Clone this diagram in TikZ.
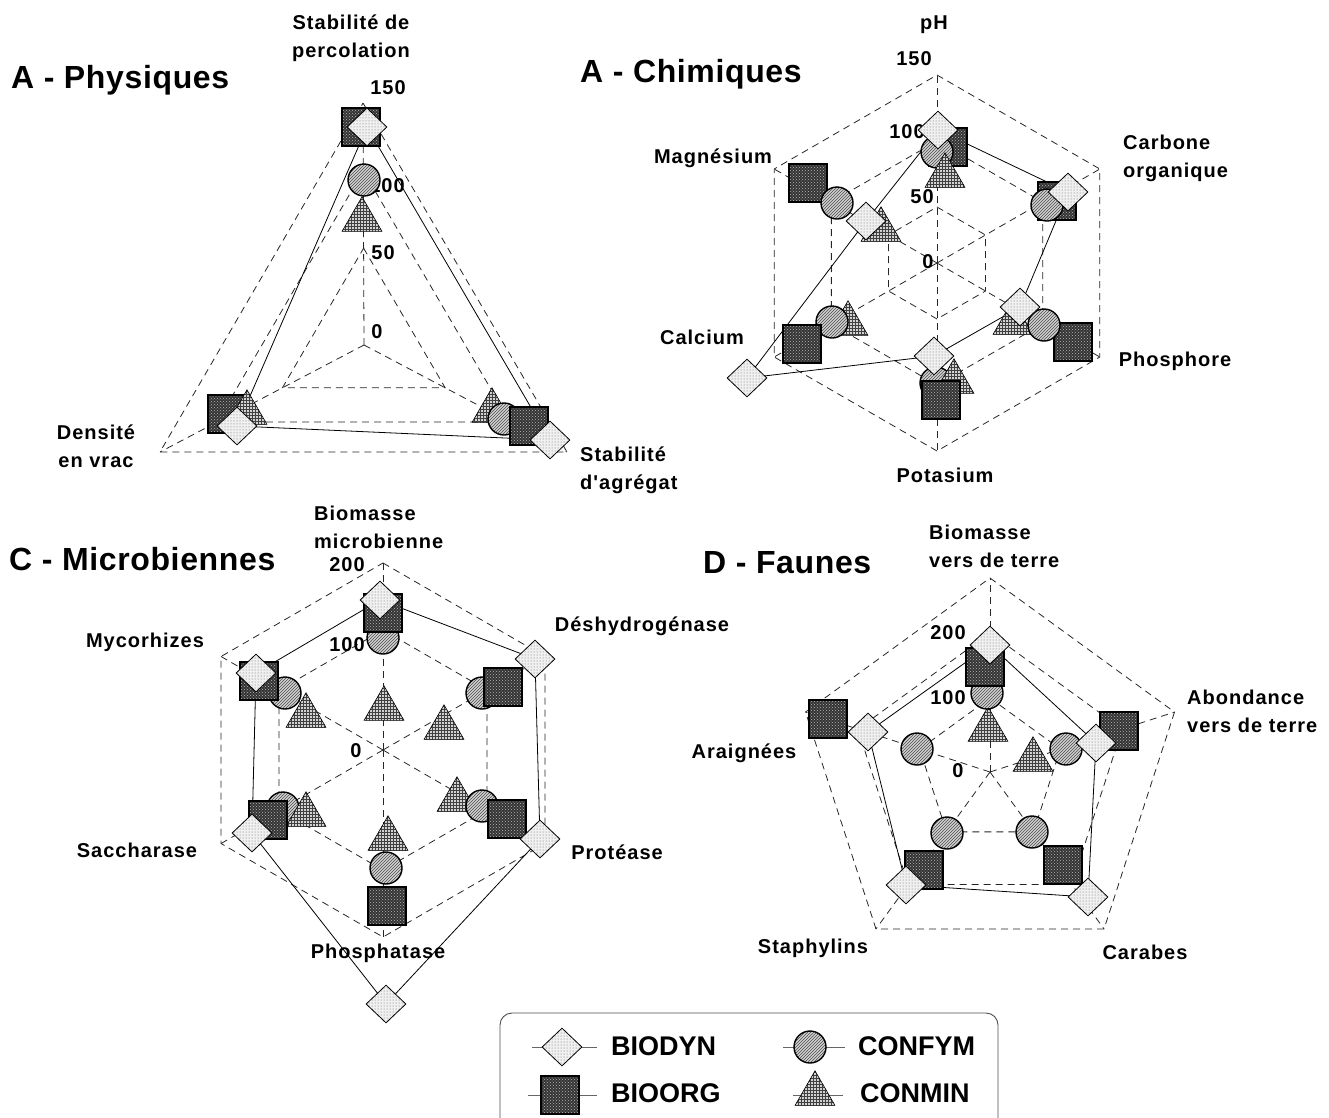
\documentclass[tikz,border=0pt]{standalone}
\usepackage{fontspec}
\setmainfont{Liberation Sans}
\newfontfamily\lblfont{Liberation Sans}[LetterSpace=5]
\newfontfamily\ttlfont{Liberation Sans}[LetterSpace=2]
\usetikzlibrary{shapes.geometric,patterns,calc}
\begin{document}
\begin{tikzpicture}[x=1pt,y=-1pt,
  gridl/.style={black!85, line width=0.8pt, dash pattern=on 7pt off 5pt},
  bioline/.style={black, line width=0.8pt},
  legline/.style={black!60, line width=1pt},
  lbl/.style={font=\lblfont\bfseries\fontsize{20}{28}\selectfont, inner sep=0pt},
  ttl/.style={font=\ttlfont\bfseries\fontsize{32}{36}\selectfont, inner sep=0pt, anchor=west},
  leg/.style={font=\bfseries\fontsize{27}{30}\selectfont, inner sep=0pt, anchor=west},
  mdia/.style={diamond, draw=black, line width=0.8pt, minimum width=40pt, minimum height=38pt, inner sep=0pt, preaction={fill=gray!12}, pattern=dots, pattern color=black!60},
  msq/.style={rectangle, draw=black, line width=1.3pt, minimum size=38pt, inner sep=0pt, preaction={fill=black!80}, pattern=crosshatch dots, pattern color=gray!55},
  mcir/.style={circle, draw=black, line width=1.4pt, minimum size=32pt, inner sep=0pt, preaction={fill=gray!35}, pattern=north east lines, pattern color=black!70},
  mtri/.style={regular polygon, regular polygon sides=3, draw=black, line width=0.6pt, minimum size=46pt, inner sep=0pt, yshift=-5.8pt, preaction={fill=gray!35}, pattern=grid, pattern color=black!75},
]
\useasboundingbox (0,0) rectangle (1329,1117);

% ---------------- titles
\node[ttl] (tA) at (11,80) {A - Physiques};
\node[ttl] (tB) at (580,74) {A - Chimiques};
\node[ttl] (tC) at (9,559) {C - Microbiennes};
\node[ttl] (tD) at (703,563) {D - Faunes};

% ---------------- grid A
\coordinate (cA) at (364,345);
\coordinate (vAt) at (363,103);
\coordinate (vAr) at (567,452);
\coordinate (vAl) at (160,452);
\foreach \f in {0.4,0.72,1}
  \draw[gridl] ($(cA)!\f!(vAt)$) -- ($(cA)!\f!(vAr)$) -- ($(cA)!\f!(vAl)$) -- cycle;
\draw[gridl] (cA) -- (vAt) (cA) -- (vAr) (cA) -- (vAl);

% ---------------- grid B
\begin{scope}[shift={(937,263)}]
\foreach \r in {56,122,188}
  \draw[gridl] (-90:\r) -- (-30:\r) -- (30:\r) -- (90:\r) -- (150:\r) -- (210:\r) -- cycle;
\foreach \a in {-90,-30,30,90,150,210} \draw[gridl] (0,0) -- (\a:188);
\end{scope}

% ---------------- grid C
\begin{scope}[shift={(383,750)}]
\foreach \r in {120,187}
  \draw[gridl] (-90:\r) -- (-30:\r) -- (30:\r) -- (90:\r) -- (150:\r) -- (210:\r) -- cycle;
\foreach \a in {-90,-30,30,90,150,210} \draw[gridl] (0,0) -- (\a:187);
\end{scope}

% ---------------- grid D
\begin{scope}[shift={(990,772)}]
\foreach \r in {74,139,194}
  \draw[gridl] (-90:\r) -- (-18:\r) -- (54:\r) -- (126:\r) -- (198:\r) -- cycle;
\foreach \a in {-90,-18,54,126,198} \draw[gridl] (0,0) -- (\a:194);
\end{scope}

% ---------------- axis labels A
\node[lbl, align=center] (xA1) at (351,38) {Stabilité de\\percolation};
\node[lbl, align=center] (xA2) at (96,446) {Densité\\en vrac};
\node[lbl, align=left, anchor=west] (xA3) at (580,470) {Stabilité\\d'agrégat};
\node[lbl] (vA150) at (388,88) {150};
\node[lbl] (vA100) at (387,186) {100};
\node[lbl] (vA50) at (383,253) {50};
\node[lbl] (vA0) at (377,332) {0};

% ---------------- axis labels B
\node[lbl] (xB1) at (934,25) {pH};
\node[lbl, align=left, anchor=west] (xB2) at (1123,158) {Carbone\\organique};
\node[lbl] (xB3) at (1175,361) {Phosphore};
\node[lbl] (xB4) at (945,475) {Potasium};
\node[lbl] (xB5) at (702,337) {Calcium};
\node[lbl] (xB6) at (713,158) {Magnésium};
\node[lbl] (vB150) at (914,59) {150};
\node[lbl] (vB100) at (907,132) {100};
\node[lbl] (vB50) at (922,197) {50};
\node[lbl] (vB0) at (928,262) {0};

% ---------------- axis labels C
\node[lbl, align=left, anchor=west] (xC1) at (314,527) {Biomasse\\microbienne};
\node[lbl] (xC2) at (642,626) {Déshydrogénase};
\node[lbl] (xC3) at (617,852) {Protéase};
\node[lbl] (xC4) at (378,953) {Phosphatase};
\node[lbl] (xC5) at (137,850) {Saccharase};
\node[lbl] (xC6) at (145,642) {Mycorhizes};
\node[lbl] (vC200) at (347,565) {200};
\node[lbl] (vC100) at (347,645) {100};
\node[lbl] (vC0) at (356,751) {0};

% ---------------- axis labels D
\node[lbl, align=left, anchor=west] (xD1) at (929,546) {Biomasse\\vers de terre};
\node[lbl, align=left, anchor=west] (xD2) at (1187,711) {Abondance\\vers de terre};
\node[lbl] (xD3) at (1145,952) {Carabes};
\node[lbl] (xD4) at (813,948) {Staphylins};
\node[lbl] (xD5) at (744,753) {Araignées};
\node[lbl] (vD200) at (948,633) {200};
\node[lbl] (vD100) at (948,698) {100};
\node[lbl] (vD0) at (958,771) {0};

% ---------------- BIODYN data points and solid lines
\coordinate (aT1) at (367,127);
\coordinate (aR1) at (550,440);
\coordinate (aL1) at (237,426);
\draw[bioline] (aT1) -- (aR1) -- (aL1) -- cycle;

\coordinate (b1) at (938,130);
\coordinate (b2) at (1068,192);
\coordinate (b3) at (1020,307);
\coordinate (b4) at (934,356);
\coordinate (b5) at (747,378);
\coordinate (b6) at (866,221);
\draw[bioline] (b1) -- (b2) -- (b3) -- (b4) -- (b5) -- (b6) -- cycle;

\coordinate (c1) at (380,600);
\coordinate (c2) at (535,659);
\coordinate (c3) at (540,839);
\coordinate (c4) at (386,1004);
\coordinate (c5) at (252,833);
\coordinate (c6) at (256,673);
\draw[bioline] (c1) -- (c2) -- (c3) -- (c4) -- (c5) -- (c6) -- cycle;

\coordinate (d1) at (990,645);
\coordinate (d2) at (1096,743);
\coordinate (d3) at (1088,897);
\coordinate (d4) at (906,885);
\coordinate (d5) at (868,732);
\draw[bioline] (d1) -- (d2) -- (d3) -- (d4) -- (d5) -- cycle;

% ---------------- markers A
\node[mcir] (aT3) at (364,180) {};
\node[mtri] (aT4) at (362,214) {};
\node[msq]  (aT2) at (361,127) {};
\node[mdia] (aT1n) at (aT1) {};
\node[mtri] (aR4) at (492,405) {};
\node[mcir] (aR3) at (504,419) {};
\node[msq]  (aR2) at (529,426) {};
\node[mdia] (aR1n) at (aR1) {};
\node[msq]  (aL2) at (227,414) {};
\node[mtri] (aL4) at (247,407) {};
\node[mdia] (aL1n) at (aL1) {};

% ---------------- markers B
\node[msq]  (b1s) at (948,147) {};
\node[mcir] (b1c) at (937,152) {};
\node[mtri] (b1t) at (945,170) {};
\node[mdia] (b1n) at (b1) {};
\node[msq]  (b2s) at (1057,201) {};
\node[mcir] (b2c) at (1047,205) {};
\node[mdia] (b2n) at (b2) {};
\node[mtri] (b3t) at (1013,317) {};
\node[msq]  (b3s) at (1073,342) {};
\node[mcir] (b3c) at (1044,325) {};
\node[mdia] (b3n) at (b3) {};
\node[mcir] (b4c) at (936,383) {};
\node[mtri] (b4t) at (954,376) {};
\node[msq]  (b4s) at (941,400) {};
\node[mdia] (b4n) at (b4) {};
\node[mtri] (b5t) at (848,318) {};
\node[mcir] (b5c) at (832,322) {};
\node[msq]  (b5s) at (802,344) {};
\node[mdia] (b5n) at (b5) {};
\node[msq]  (b6s) at (808,183) {};
\node[mcir] (b6c) at (837,203) {};
\node[mtri] (b6t) at (881,224) {};
\node[mdia] (b6n) at (b6) {};

% ---------------- markers C
\node[mcir] (c1c) at (383,638) {};
\node[mtri] (c1t) at (384,703) {};
\node[msq]  (c1s) at (383,613) {};
\node[mdia] (c1n) at (c1) {};
\node[mtri] (c2t) at (444,722) {};
\node[mcir] (c2c) at (482,693) {};
\node[msq]  (c2s) at (503,687) {};
\node[mdia] (c2n) at (c2) {};
\node[mtri] (c3t) at (457,794) {};
\node[mcir] (c3c) at (482,806) {};
\node[msq]  (c3s) at (507,819) {};
\node[mdia] (c3n) at (c3) {};
\node[mtri] (c4t) at (388,833) {};
\node[mcir] (c4c) at (386,868) {};
\node[msq]  (c4s) at (387,906) {};
\node[mdia] (c4n) at (c4) {};
\node[mcir] (c5c) at (283,808) {};
\node[mtri] (c5t) at (306,809) {};
\node[msq]  (c5s) at (268,820) {};
\node[mdia] (c5n) at (c5) {};
\node[mcir] (c6c) at (285,693) {};
\node[mtri] (c6t) at (306,710) {};
\node[msq]  (c6s) at (259,681) {};
\node[mdia] (c6n) at (c6) {};

% ---------------- markers D
\node[mtri] (d1t) at (988,724) {};
\node[mcir] (d1c) at (987,693) {};
\node[msq]  (d1s) at (985,667) {};
\node[mdia] (d1n) at (d1) {};
\node[mtri] (d2t) at (1033,754) {};
\node[mcir] (d2c) at (1066,749) {};
\node[msq]  (d2s) at (1119,731) {};
\node[mdia] (d2n) at (d2) {};
\node[mcir] (d3c) at (1032,832) {};
\node[msq]  (d3s) at (1063,865) {};
\node[mdia] (d3n) at (d3) {};
\node[mcir] (d4c) at (947,833) {};
\node[msq]  (d4s) at (924,870) {};
\node[mdia] (d4n) at (d4) {};
\node[msq]  (d5s) at (828,719) {};
\node[mdia] (d5n) at (d5) {};
\node[mcir] (d5c) at (917,749) {};

% ---------------- legend
\draw[rounded corners=12pt, black!70, line width=0.9pt] (500,1125) -- (500,1013) -- (998,1013) -- (998,1125);
\coordinate (l1a) at (532,1047); \coordinate (l1b) at (597,1047);
\coordinate (l2a) at (528,1095); \coordinate (l2b) at (597,1095);
\coordinate (l3a) at (783,1047); \coordinate (l3b) at (845,1047);
\coordinate (l4a) at (793,1095); \coordinate (l4b) at (843,1095);
\draw[legline] (l1a) -- (l1b);
\draw[legline] (l2a) -- (l2b);
\draw[legline] (l3a) -- (l3b);
\draw[legline] (l4a) -- (l4b);
\node[mdia] (l1m) at (562,1047) {};
\node[msq]  (l2m) at (560,1095) {};
\node[mcir] (l3m) at (810,1047) {};
\node[mtri] (l4m) at (815,1088) {};
\node[leg] (l1t) at (611,1046) {BIODYN};
\node[leg] (l2t) at (611,1093) {BIOORG};
\node[leg] (l3t) at (858,1046) {CONFYM};
\node[leg] (l4t) at (860,1093) {CONMIN};
\end{tikzpicture}
\end{document}
